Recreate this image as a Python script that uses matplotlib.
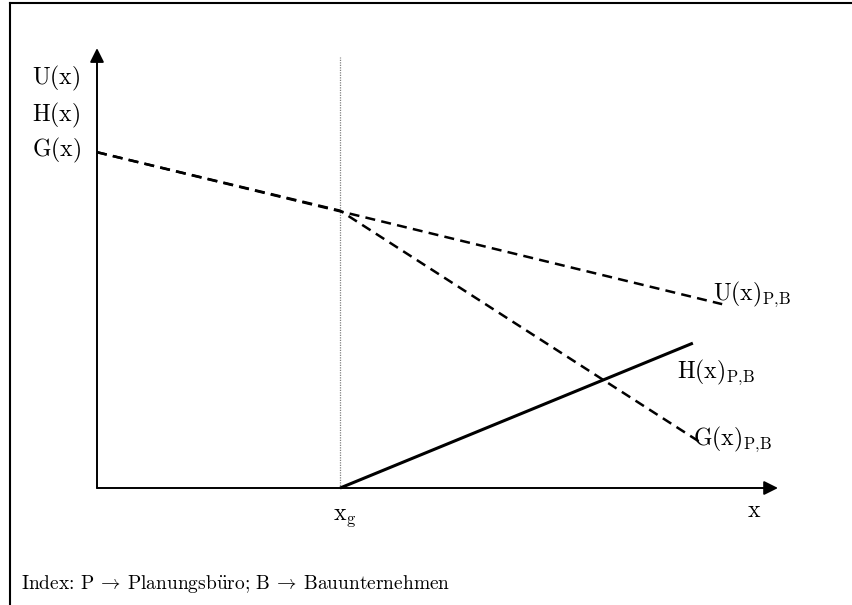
import matplotlib
matplotlib.use("Agg")
import matplotlib.pyplot as plt
from matplotlib.lines import Line2D

plt.rcParams['mathtext.fontset'] = 'cm'

# chart values (abstract units, axes run 0..10)
x_g = 3.57
x_end_axis = 10.0
y_end_axis = 9.93
y_top_dotted = 9.73

u_x = [0.0, 9.18]
u_y = [7.58, 4.15]

g_x = [0.0, x_g, 8.85]
g_y = [7.58, 6.26, 1.04]

h_x = [x_g, 8.75]
h_y = [0.0, 3.27]

axis_labels_y = [r'$\mathrm{U(x)}$', r'$\mathrm{H(x)}$', r'$\mathrm{G(x)}$']
axis_labels_pos = [9.25, 8.42, 7.63]

curve_labels = [r'$\mathrm{U(x)_{P,\!B}}$', r'$\mathrm{H(x)_{P,\!B}}$', r'$\mathrm{G(x)_{P,\!B}}$']
curve_labels_x = [9.05, 8.52, 8.75]
curve_labels_y = [4.24, 2.48, 0.97]

index_text = (r'Index: P $\!\rightarrow\!$ Planungsb$\mathrm{\ddot{u}}$ro; '
              r'B $\!\rightarrow\!$ Bauunternehmen')

fig = plt.figure(figsize=(8.52, 6.05), dpi=100)
ax = fig.add_axes([97 / 852, 117 / 605, 681 / 852, 443 / 605])
ax.set_xlim(0, 10)
ax.set_ylim(0, 10)
ax.axis('off')

# frame around the figure (left + top only visible)
fig.add_artist(Line2D([10 / 852, 10 / 852], [0, 602 / 605], color='black', lw=1.5,
                      transform=fig.transFigure))
fig.add_artist(Line2D([10 / 852, 1], [602 / 605, 602 / 605], color='black', lw=1.5,
                      transform=fig.transFigure))

# axes with arrows
arrow = dict(arrowstyle='-|>', mutation_scale=21, lw=1.4, color='black',
             shrinkA=0, shrinkB=0)
ax.annotate('', xy=(x_end_axis, 0), xytext=(0, 0), arrowprops=arrow, annotation_clip=False)
ax.annotate('', xy=(0, y_end_axis), xytext=(0, 0), arrowprops=arrow, annotation_clip=False)

# dotted vertical at x_g
ax.plot([x_g, x_g], [0, y_top_dotted], color='grey', lw=0.9, ls=(0, (1, 1)), clip_on=False)

# curves
lu, = ax.plot(u_x, u_y, color='black', lw=1.8, clip_on=False)
lu.set_dashes((4, 2.5))
lg, = ax.plot(g_x, g_y, color='black', lw=1.8, clip_on=False)
lg.set_dashes((4, 2.5))
ax.plot(h_x, h_y, color='black', lw=2.2, solid_capstyle='butt', clip_on=False)

# labels
for lab, yy in zip(axis_labels_y, axis_labels_pos):
    ax.text(-0.95, yy, lab, fontsize=17, ha='left', va='center')

for lab, xx, yy in zip(curve_labels, curve_labels_x, curve_labels_y):
    ax.text(xx, yy, lab, fontsize=17, ha='left', va='baseline')

ax.text(3.47, -0.72, r'$\mathrm{x_g}$', fontsize=17, ha='left', va='baseline')
ax.text(9.54, -0.65, r'$\mathrm{x}$', fontsize=17, ha='left', va='baseline')

fig.text(21 / 852, 16 / 605, index_text, fontsize=14, family='cmr10',
         ha='left', va='baseline')

fig.savefig('out.png', dpi=100)
